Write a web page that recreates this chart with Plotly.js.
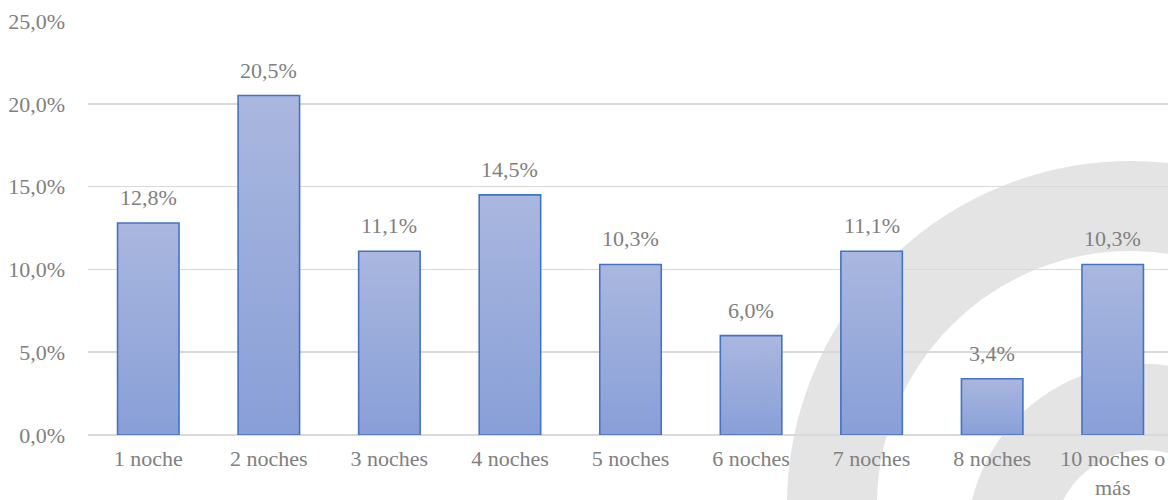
<!DOCTYPE html>
<html>
<head>
<meta charset="utf-8">
<script src="https://cdn.plot.ly/plotly-3.0.1.min.js"></script>
<style>
  html, body { margin: 0; padding: 0; width: 1168px; height: 500px; overflow: hidden; background: #ffffff; }
  #wm { position: absolute; left: 0; top: 0; z-index: 0; }
  #chart { position: absolute; left: 0; top: 0; width: 1173px; height: 500px; z-index: 1; }
</style>
</head>
<body>
<svg id="wm" width="1168" height="500" viewBox="0 0 1168 500">
  <circle cx="1131" cy="505" r="299" fill="none" stroke="#e4e4e4" stroke-width="90"/>
  <circle cx="1145" cy="542" r="135" fill="none" stroke="#e4e4e4" stroke-width="86"/>
</svg>
<div id="chart"></div>
<script>
const categories = ["1 noche", "2 noches", "3 noches", "4 noches", "5 noches", "6 noches", "7 noches", "8 noches", "10 noches o<br>más"];
const values = [12.8, 20.5, 11.1, 14.5, 10.3, 6.0, 11.1, 3.4, 10.3];
const yTickVals = [0, 5, 10, 15, 20, 25];
const yTickText = ["0,0%", "5,0%", "10,0%", "15,0%", "20,0%", "25,0%"];

const fmt = v => v.toFixed(1).replace('.', ',') + '%';
const textColor = '#808080';
const fontFamily = 'Liberation Serif, serif';
const fontSize = 22;

const trace = {
  type: 'bar',
  x: categories,
  y: values,
  marker: { color: '#98abdb', line: { color: '#4472c4', width: 1.6 } },
  hoverinfo: 'skip'
};

const annotations = categories.map((c, i) => ({
  x: c, y: values[i], xref: 'x', yref: 'y',
  text: fmt(values[i]), showarrow: false,
  yanchor: 'bottom', yshift: 11,
  font: { family: fontFamily, size: fontSize, color: textColor }
}));

const layout = {
  width: 1173, height: 500,
  margin: { l: 88, r: 0, t: 21, b: 65 },
  paper_bgcolor: 'rgba(0,0,0,0)',
  plot_bgcolor: 'rgba(0,0,0,0)',
  bargap: 0.49,
  showlegend: false,
  font: { family: fontFamily, size: fontSize, color: textColor },
  xaxis: {
    type: 'category',
    showgrid: false, zeroline: false, showline: false,
    ticks: '', ticklabelstandoff: 8,
    tickfont: { family: fontFamily, size: fontSize, color: textColor }
  },
  yaxis: {
    range: [0, 25], fixedrange: true,
    tickvals: yTickVals, ticktext: yTickText,
    showgrid: true, gridcolor: '#d9d9d9', gridwidth: 1.5,
    zeroline: true, zerolinecolor: '#d9d9d9', zerolinewidth: 1.5,
    showline: false, ticks: '', ticklabelstandoff: 22,
    tickfont: { family: fontFamily, size: fontSize, color: textColor }
  },
  annotations: annotations
};

Plotly.newPlot('chart', [trace], layout, { staticPlot: true, displayModeBar: false }).then(gd => {
  const svg = gd.querySelector('svg.main-svg');
  const ns = 'http://www.w3.org/2000/svg';
  const defs = document.createElementNS(ns, 'defs');
  const grad = document.createElementNS(ns, 'linearGradient');
  grad.setAttribute('id', 'barGrad');
  grad.setAttribute('x1', '0'); grad.setAttribute('y1', '0');
  grad.setAttribute('x2', '0'); grad.setAttribute('y2', '1');
  [['0', '#aab7df'], ['1', '#889fd7']].forEach(([o, c]) => {
    const s = document.createElementNS(ns, 'stop');
    s.setAttribute('offset', o); s.setAttribute('stop-color', c);
    grad.appendChild(s);
  });
  defs.appendChild(grad);
  svg.insertBefore(defs, svg.firstChild);
  gd.querySelectorAll('.trace.bars .point path').forEach(p => {
    p.style.fill = 'url(#barGrad)';
  });
});
</script>
</body>
</html>
